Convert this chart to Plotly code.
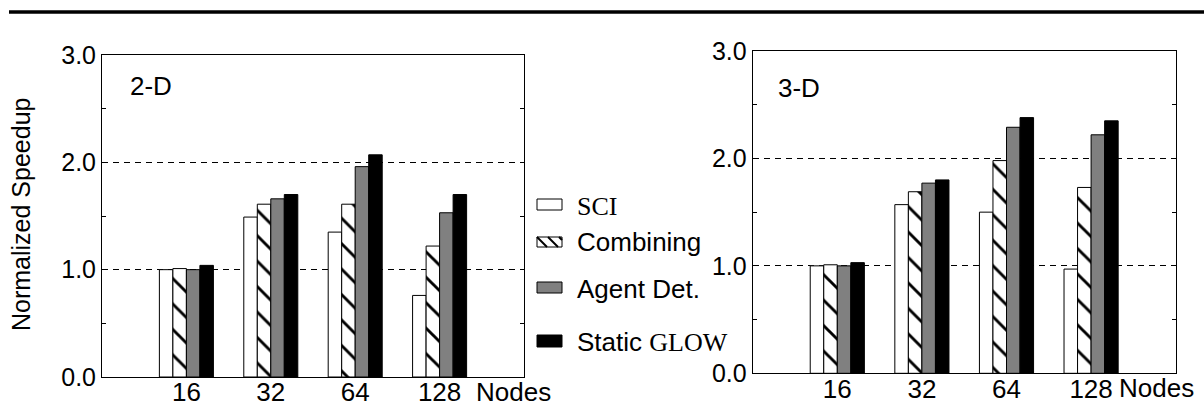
import plotly.graph_objects as go

W, H = 1204, 415

nodes = ["16", "32", "64", "128"]
series_names = ["SCI", "Combining", "Agent Det.", "Static GLOW"]

# 2-D panel values
sci_2d = [1.00, 1.49, 1.35, 0.76]
comb_2d = [1.01, 1.61, 1.61, 1.22]
agent_2d = [1.00, 1.66, 1.96, 1.53]
static_2d = [1.04, 1.70, 2.07, 1.70]

# 3-D panel values
sci_3d = [1.00, 1.57, 1.50, 0.97]
comb_3d = [1.01, 1.69, 1.98, 1.73]
agent_3d = [1.00, 1.77, 2.29, 2.22]
static_3d = [1.03, 1.80, 2.38, 2.35]

y_ticks = [0, 1, 2, 3]
y_ticktext = ["0.0", "1.0", "2.0", "3.0"]


def px(x):
    return x / W


def py(y):
    return 1 - y / H


FONT = "Liberation Sans, Arial, sans-serif"
SERIF = "Liberation Serif, Times New Roman, serif"

styles = [
    dict(color="white", line=dict(color="black", width=1)),
    dict(color="white", line=dict(color="black", width=1),
         pattern=dict(shape="\\", fillmode="overlay", fgcolor="#000000", fgopacity=1,
                      size=18, solidity=0.16)),
    dict(color="#808080", line=dict(color="black", width=1)),
    dict(color="black", line=dict(color="black", width=1)),
]

fig = go.Figure()

panels = [
    ("x", "y", [sci_2d, comb_2d, agent_2d, static_2d]),
    ("x2", "y2", [sci_3d, comb_3d, agent_3d, static_3d]),
]
for xa, ya, vals in panels:
    for name, v, st in zip(series_names, vals, styles):
        fig.add_trace(go.Bar(x=nodes, y=v, name=name, marker=st, xaxis=xa, yaxis=ya,
                             showlegend=False))

xaxis_common = dict(
    type="category", range=[-1, 4], showline=True, linecolor="black", linewidth=1,
    mirror=True, ticks="", showgrid=False, zeroline=False, automargin=False,
    ticklabelstandoff=-8,
    tickfont=dict(family=FONT, size=26, color="black"),
)
yaxis_common = dict(
    range=[0, 3], tickvals=y_ticks, ticktext=y_ticktext, showline=True, linecolor="black",
    linewidth=1, mirror="ticks", ticks="inside", ticklen=4, tickcolor="black",
    showgrid=True, gridcolor="black", gridwidth=1, griddash="6px,5px", zeroline=False,
    automargin=False,
    tickfont=dict(family=FONT, size=25, color="black"),
    minor=dict(tickvals=[0.5, 1.5, 2.5], ticks="inside", ticklen=4, tickcolor="black",
               showgrid=False),
)

fig.update_layout(
    width=W, height=H, margin=dict(l=0, r=0, t=0, b=0, pad=0),
    paper_bgcolor="white", plot_bgcolor="white",
    barmode="group", bargap=0.36, bargroupgap=0,
    xaxis=dict(domain=[px(102), px(524)], anchor="y", **xaxis_common),
    yaxis=dict(domain=[py(377), py(55)], anchor="x", **yaxis_common),
    xaxis2=dict(domain=[px(752.7), px(1175.7)], anchor="y2", **xaxis_common),
    yaxis2=dict(domain=[py(373.3), py(51)], anchor="x2", **yaxis_common),
    font=dict(family=FONT, color="black"),
)

shapes = [
    dict(type="line", xref="paper", yref="paper", x0=px(9), x1=px(1204), y0=py(12), y1=py(12),
         line=dict(color="black", width=3.5)),
]
# legend swatches
sw_x0, sw_x1 = 537, 562
swatches = [(199, 210, "white"), (237, 247, "white"), (282, 293, "#808080"), (335, 347, "black")]
for (y0, y1, col) in swatches:
    shapes.append(dict(type="rect", xref="paper", yref="paper", x0=px(sw_x0), x1=px(sw_x1),
                       y0=py(y1), y1=py(y0), fillcolor=col, line=dict(color="black", width=1)))
# hatch for Combining swatch
for hx in [537, 548, 559]:
    xa0, xa1 = hx, min(hx + 10, 562)
    ya1 = 237 + (xa1 - xa0)
    shapes.append(dict(type="line", xref="paper", yref="paper", x0=px(xa0), x1=px(xa1),
                       y0=py(237), y1=py(ya1), line=dict(color="black", width=2)))

annotations = [
    dict(text="Normalized Speedup", xref="paper", yref="paper", x=px(21), y=py(215),
         textangle=-90, showarrow=False, font=dict(family=FONT, size=25, color="black"),
         xanchor="center", yanchor="middle"),
    dict(text="2-D", xref="paper", yref="paper", x=px(128), y=py(86), showarrow=False,
         xanchor="left", yanchor="middle", font=dict(family=FONT, size=26, color="black")),
    dict(text="3-D", xref="paper", yref="paper", x=px(776), y=py(88), showarrow=False,
         xanchor="left", yanchor="middle", font=dict(family=FONT, size=26, color="black")),
    dict(text="Nodes", xref="x", yref="paper", x=3, xshift=34, y=py(392), showarrow=False,
         xanchor="left", yanchor="middle", font=dict(family=FONT, size=26, color="black")),
    dict(text="Nodes", xref="x2", yref="paper", x=3, xshift=26, y=py(388), showarrow=False,
         xanchor="left", yanchor="middle", font=dict(family=FONT, size=26, color="black")),
]
legend_y = [206, 242, 289, 342]
legend_text = [
    f'<span style="font-family:{SERIF}">SCI</span>',
    "Combining",
    "Agent Det.",
    f'Static <span style="font-family:{SERIF}">GLOW</span>',
]
for t, yy in zip(legend_text, legend_y):
    annotations.append(dict(text=t, xref="paper", yref="paper", x=px(575), y=py(yy),
                            showarrow=False, xanchor="left", yanchor="middle",
                            font=dict(family=FONT, size=26, color="black")))

fig.update_layout(shapes=shapes, annotations=annotations)

fig.write_html("out.html", config={"displayModeBar": False},
               post_script="document.body.style.margin='0px';")
